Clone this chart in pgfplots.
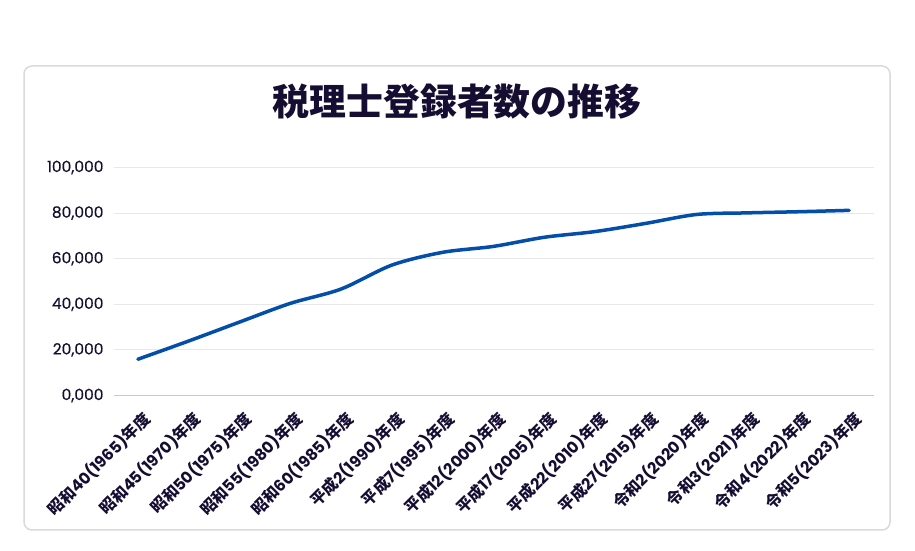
\documentclass[border=0pt]{standalone}
\usepackage{pgfplots}
\pgfplotsset{compat=1.18}
\usepackage{fontspec}
\setmainfont{Poppins}
\newfontfamily\popm{Poppins}[FakeBold=0.5]
\newfontfamily\cjk{Noto Sans CJK JP}
\definecolor{txt}{RGB}{22,14,50}
\definecolor{lineblue}{RGB}{3,78,168}
\definecolor{gridc}{RGB}{232,232,234}
\definecolor{cardc}{RGB}{218,218,222}
\definecolor{basec}{RGB}{200,200,210}
\newcommand{\xl}[3]{{\cjk\bfseries #1}{\bfseries #2}{\cjk\bfseries #3}}
\begin{document}
\begin{tikzpicture}
\fill[white] (0,0) rectangle (915bp,551bp);
\draw[cardc, line width=1.5bp, rounded corners=8bp, fill=white] (24bp,21bp) rectangle (890bp,485bp);
\node[font=\cjk\bfseries\fontsize{37}{37}\selectfont, text=txt] at (457bp,449bp) {税理士登録者数の推移};
\begin{axis}[
  at={(114bp,155.5bp)}, anchor=south west,
  scale only axis, width=760bp, height=228bp,
  xmin=-0.47, xmax=14.49, ymin=0, ymax=100000,
  clip=false, scaled y ticks=false,
  axis line style={draw=none},
  major tick length=0,
  ymajorgrids, grid style={gridc, line width=1bp},
  ytick={0,20000,40000,60000,80000,100000},
  yticklabels={{0,000},{20,000},{40,000},{60,000},{80,000},{100,000}},
  yticklabel style={font=\popm\fontsize{15.5}{15.5}\selectfont, text=txt, xshift=-7bp},
  xtick={0,1,2,3,4,5,6,7,8,9,10,11,12,13,14},
  xticklabels={\xl{昭和}{40(1965)}{年度},\xl{昭和}{45(1970)}{年度},\xl{昭和}{50(1975)}{年度},\xl{昭和}{55(1980)}{年度},\xl{昭和}{60(1985)}{年度},\xl{平成}{2(1990)}{年度},\xl{平成}{7(1995)}{年度},\xl{平成}{12(2000)}{年度},\xl{平成}{17(2005)}{年度},\xl{平成}{22(2010)}{年度},\xl{平成}{27(2015)}{年度},\xl{令和}{2(2020)}{年度},\xl{令和}{3(2021)}{年度},\xl{令和}{4(2022)}{年度},\xl{令和}{5(2023)}{年度}},
  xticklabel style={xshift=12bp, yshift=-18bp, rotate=45, anchor=east, font=\fontsize{16}{16}\selectfont, text=txt},
]
\draw[basec, line width=1bp] (axis cs:-0.47,0) -- (axis cs:14.49,0);
\addplot[lineblue, line width=3.5bp, smooth, tension=0.5, line cap=round] coordinates {
(0,15900) (1,23900) (2,32200) (3,40400) (4,46700) (5,57200) (6,62800)
(7,65400) (8,69400) (9,71900) (10,75500) (11,79400) (12,80100) (13,80600) (14,81200)
};
\end{axis}
\end{tikzpicture}
\end{document}
